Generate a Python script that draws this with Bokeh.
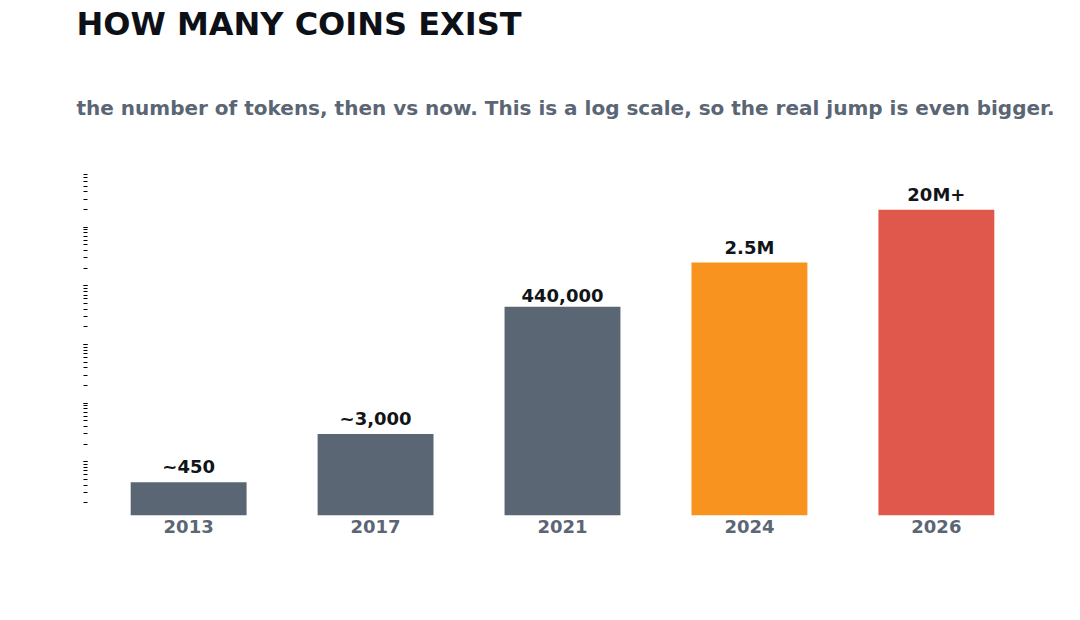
from bokeh.plotting import figure
from bokeh.models import (Range1d, LogTicker, FixedTicker, ColumnDataSource,
                          CustomJSTickFormatter, Title)
from bokeh.embed import file_html
from bokeh.resources import INLINE
from bokeh.core.properties import value

# Token counts per year (log scale)
years = ["2013", "2017", "2021", "2024", "2026"]
counts = [450, 3000, 440000, 2500000, 20000000]
value_labels = ["~450", "~3,000", "440,000", "2.5M", "20M+"]
bar_colors = ["#5b6675", "#5b6675", "#5b6675", "#f7931e", "#e0584c"]

title_text = "HOW MANY COINS EXIST"
subtitle_text = ("the number of tokens, then vs now. This is a log scale, "
                 "so the real jump is even bigger.")

FONT = "DejaVu Sans"
GRAY = "#5b6675"

y_lo, y_hi = 122, 8.6e7
positions = list(range(len(years)))

src = ColumnDataSource(dict(x=positions, top=counts, bottom=[y_lo] * len(counts),
                            color=bar_colors, label=value_labels))

p = figure(width=1080, height=620, y_axis_type="log",
           x_range=Range1d(-0.541, 4.541), y_range=Range1d(y_lo, y_hi),
           output_backend="svg", toolbar_location=None,
           min_border_left=87, min_border_right=43,
           min_border_top=172, min_border_bottom=105)
p.outline_line_color = None
p.xgrid.grid_line_color = None
p.ygrid.grid_line_color = None

# subtitle first (closest to the plot), then the main title above it
p.add_layout(Title(text=subtitle_text, align="left", offset=-11, standoff=105,
                   text_font=FONT, text_font_style="bold",
                   text_font_size="20px", text_color=GRAY), "above")
p.add_layout(Title(text=title_text, align="left", offset=-11, standoff=-3,
                   text_font=FONT, text_font_style="bold",
                   text_font_size="32px", text_color="#0d1117"), "above")

p.vbar(x="x", top="top", bottom="bottom", width=0.62,
       fill_color="color", line_color=None, source=src)

p.text(x="x", y="top", text="label", source=src,
       text_align="center", text_baseline="bottom", y_offset=-5,
       text_font=value(FONT), text_font_style="bold",
       text_font_size="18px", text_color="#111418")

# x axis: year labels only
xa = p.xaxis[0]
xa.ticker = FixedTicker(ticks=positions)
xa.major_label_overrides = {i: y for i, y in enumerate(years)}
xa.axis_line_color = None
xa.major_tick_line_color = None
xa.minor_tick_line_color = None
xa.major_label_standoff = -2
xa.major_label_text_font = FONT
xa.major_label_text_font_style = "bold"
xa.major_label_text_font_size = "18px"
xa.major_label_text_color = GRAY

# y axis: only the minor log ticks are shown
ya = p.yaxis[0]
ya.ticker = LogTicker(num_minor_ticks=10)
ya.formatter = CustomJSTickFormatter(code="return ''")
ya.axis_line_color = None
ya.major_tick_line_color = None
ya.major_label_standoff = 0
ya.minor_tick_in = 0
ya.minor_tick_out = 4
ya.minor_tick_line_color = "#000000"
ya.minor_tick_line_width = 1

open("out.html", "w").write(file_html(p, INLINE))
